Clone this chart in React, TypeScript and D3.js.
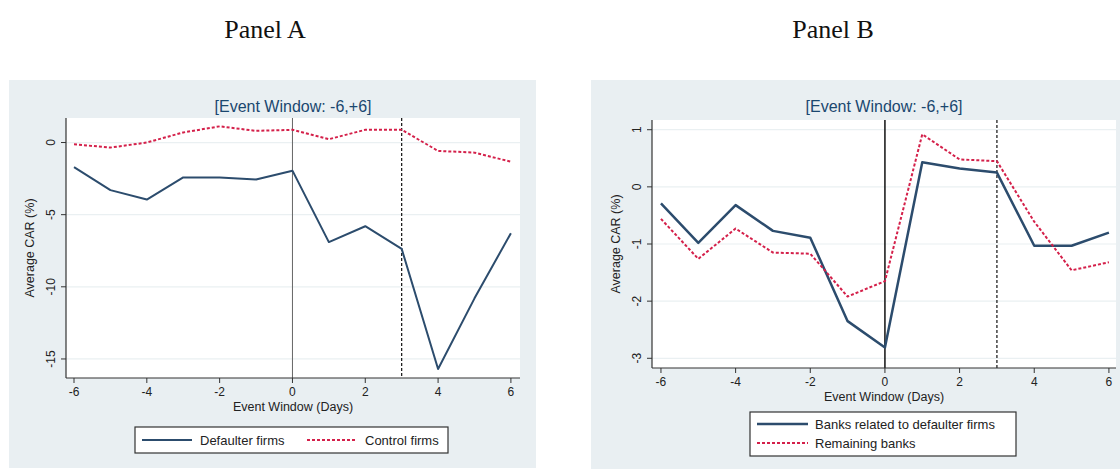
import React from "react";
import * as d3 from "d3";

// event days
const days = [-6, -5, -4, -3, -2, -1, 0, 1, 2, 3, 4, 5, 6];

// Panel A: average CAR (%)
const defaulterFirms = [-1.7, -3.3, -3.95, -2.42, -2.42, -2.56, -1.95, -6.9, -5.8, -7.37, -15.7, -10.8, -6.28];
const controlFirms = [-0.12, -0.35, 0.0, 0.7, 1.12, 0.81, 0.88, 0.23, 0.88, 0.88, -0.58, -0.7, -1.33];

// Panel B: average CAR (%)
const banksRelated = [-0.29, -0.98, -0.32, -0.77, -0.89, -2.35, -2.81, 0.43, 0.32, 0.25, -1.03, -1.03, -0.8];
const remainingBanks = [-0.56, -1.26, -0.73, -1.15, -1.17, -1.92, -1.65, 0.92, 0.48, 0.45, -0.61, -1.46, -1.32];

const xTicks = [-6, -4, -2, 0, 2, 4, 6];
const yTicksA = [0, -5, -10, -15];
const yTicksB = [1, 0, -1, -2, -3];

const BLUE = "#2c4c6d";
const RED = "#d4204a";
const BG = "#e9eff2";
const FONT = "Liberation Sans, Arial, sans-serif";
const SERIF = "Liberation Serif, Times New Roman, serif";

type Series = { label: string; values: number[]; color: string; width: number; dash?: string };

type PanelProps = {
  bg: { x: number; y: number; w: number; h: number };
  plot: { l: number; r: number; t: number; b: number };
  xDomain: [number, number];
  yDomain: [number, number];
  yTicks: number[];
  series: Series[];
  zeroLine: { color: string; width: number };
  legend: { x: number; y: number; w: number; h: number; rows: boolean };
};

const Panel = ({ bg, plot, xDomain, yDomain, yTicks, series, zeroLine, legend }: PanelProps) => {
  const x = d3.scaleLinear().domain(xDomain).range([plot.l, plot.r]);
  const y = d3.scaleLinear().domain(yDomain).range([plot.b, plot.t]);
  const line = (vals: number[]) =>
    d3
      .line<number>()
      .x((_, i) => x(days[i]))
      .y((d) => y(d))(vals) || "";
  const cx = (plot.l + plot.r) / 2;
  const cy = (plot.t + plot.b) / 2;

  return (
    <g fontFamily={FONT}>
      <rect x={bg.x} y={bg.y} width={bg.w} height={bg.h} fill={BG} />
      <rect x={plot.l} y={plot.t} width={plot.r - plot.l} height={plot.b - plot.t} fill="#fff" />
      <text x={cx} y={bg.y + 32} textAnchor="middle" fontSize={16} fill="#1a476f">
        [Event Window: -6,+6]
      </text>
      {/* grid */}
      {yTicks.map((t) => (
        <line key={"g" + t} x1={plot.l} x2={plot.r} y1={y(t)} y2={y(t)} stroke="#eaf0f2" strokeWidth={1.2} />
      ))}
      {/* vertical markers */}
      <line x1={x(0)} x2={x(0)} y1={plot.t} y2={plot.b} stroke={zeroLine.color} strokeWidth={zeroLine.width} />
      <line x1={x(3)} x2={x(3)} y1={plot.t} y2={plot.b} stroke="#111" strokeWidth={1.2} strokeDasharray="3,2" />
      {/* series */}
      {series.map((s) => (
        <path
          key={s.label}
          d={line(s.values)}
          fill="none"
          stroke={s.color}
          strokeWidth={s.width}
          strokeDasharray={s.dash}
          strokeLinejoin="round"
        />
      ))}
      {/* axes */}
      <line x1={plot.l} x2={plot.l} y1={plot.t} y2={plot.b} stroke="#333" strokeWidth={1.2} />
      <line x1={plot.l} x2={plot.r} y1={plot.b} y2={plot.b} stroke="#333" strokeWidth={1.2} />
      {xTicks.map((t) => (
        <g key={"x" + t}>
          <line x1={x(t)} x2={x(t)} y1={plot.b} y2={plot.b + 5} stroke="#333" />
          <text x={x(t)} y={plot.b + 18} textAnchor="middle" fontSize={12} fill="#222">
            {t}
          </text>
        </g>
      ))}
      {yTicks.map((t) => (
        <g key={"y" + t}>
          <line x1={plot.l - 5} x2={plot.l} y1={y(t)} y2={y(t)} stroke="#333" />
          <text
            transform={`translate(${plot.l - 11},${y(t)}) rotate(-90)`}
            textAnchor="middle"
            fontSize={12}
            fill="#222"
          >
            {t}
          </text>
        </g>
      ))}
      <text x={cx} y={plot.b + 33} textAnchor="middle" fontSize={12.5} fill="#222">
        Event Window (Days)
      </text>
      <text
        transform={`translate(${plot.l - 32},${cy}) rotate(-90)`}
        textAnchor="middle"
        fontSize={12.5}
        fill="#222"
      >
        Average CAR (%)
      </text>
      {/* legend */}
      <rect x={legend.x} y={legend.y} width={legend.w} height={legend.h} fill="#fff" stroke="#333" strokeWidth={1.2} />
      {series.map((s, i) => {
        const lx = legend.rows ? legend.x + 7 : legend.x + 7 + i * 165;
        const ly = legend.rows ? legend.y + 12 + i * 19 : legend.y + legend.h / 2;
        return (
          <g key={"l" + s.label}>
            <line x1={lx} x2={lx + (legend.rows ? 51 : 50)} y1={ly} y2={ly} stroke={s.color} strokeWidth={s.width} strokeDasharray={s.dash} />
            <text x={lx + 58} y={ly + 4.5} fontSize={13} fill="#222">
              {s.label}
            </text>
          </g>
        );
      })}
    </g>
  );
};

export default function App() {
  return (
    <svg width={1120} height={469} style={{ position: "absolute", left: 0, top: 0, background: "#fff" }}>
      <text x={265} y={38} textAnchor="middle" fontSize={26} fontFamily={SERIF} fill="#111">
        Panel A
      </text>
      <text x={833} y={38} textAnchor="middle" fontSize={26} fontFamily={SERIF} fill="#111">
        Panel B
      </text>
      <Panel
        bg={{ x: 9, y: 80, w: 527, h: 388 }}
        plot={{ l: 66, r: 520, t: 118, b: 378 }}
        xDomain={[-6.22, 6.25]}
        yDomain={[-16.32, 1.7]}
        yTicks={yTicksA}
        zeroLine={{ color: "#666", width: 1 }}
        series={[
          { label: "Defaulter firms", values: defaulterFirms, color: BLUE, width: 2 },
          { label: "Control firms", values: controlFirms, color: RED, width: 2, dash: "3,2" },
        ]}
        legend={{ x: 135, y: 427, w: 313, h: 26, rows: false }}
      />
      <Panel
        bg={{ x: 591, y: 80, w: 529, h: 389 }}
        plot={{ l: 652, r: 1116, t: 120, b: 368 }}
        xDomain={[-6.24, 6.19]}
        yDomain={[-3.17, 1.17]}
        yTicks={yTicksB}
        zeroLine={{ color: "#111", width: 1.5 }}
        series={[
          { label: "Banks related to defaulter firms", values: banksRelated, color: BLUE, width: 2.5 },
          { label: "Remaining banks", values: remainingBanks, color: RED, width: 2, dash: "3,2" },
        ]}
        legend={{ x: 750, y: 412, w: 266, h: 44, rows: true }}
      />
    </svg>
  );
}
